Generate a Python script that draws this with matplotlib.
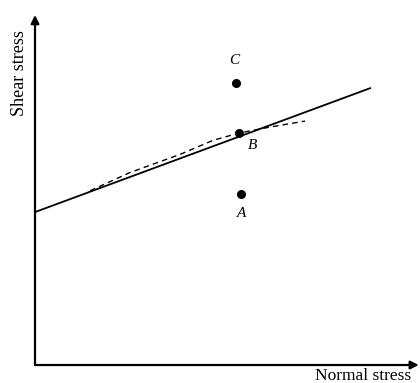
import matplotlib
matplotlib.use("Agg")
import matplotlib.pyplot as plt

# Mohr-Coulomb style sketch: failure line, curved envelope, stress states A/B/C
envelope_x = [0.0, 8.75]
envelope_y = [4.37, 7.91]

curve_x = [1.44, 2.48, 3.79, 4.65, 5.33, 6.14, 7.05]
curve_y = [4.98, 5.50, 6.02, 6.42, 6.63, 6.80, 6.97]

point_labels = ["C", "B", "A"]
point_x = [5.25, 5.33, 5.38]
point_y = [8.06, 6.63, 4.89]

fig = plt.figure(figsize=(4.2, 3.83), dpi=100)
ax = fig.add_axes([0, 0, 1, 1])
ax.set_xlim(-0.914, 10.052)
ax.set_ylim(-0.514, 10.43)
ax.axis("off")

# axes with arrow heads
arrow = dict(arrowstyle="-|>", lw=1.6, color="black", mutation_scale=12,
             shrinkA=0, shrinkB=0)
ax.annotate("", xy=(10.02, 0), xytext=(0, 0), arrowprops=arrow)
ax.annotate("", xy=(0, 10.0), xytext=(0, 0), arrowprops=arrow)

ax.plot(envelope_x, envelope_y, color="black", lw=1.3)
ax.plot(curve_x, curve_y, color="black", lw=1.0, ls=(0, (4, 3)))
ax.plot(point_x, point_y, "o", color="black", ms=5.5)

serif = "Liberation Serif"
offsets = {"C": (-0.05, 0.65), "B": (0.35, -0.35), "A": (0.0, -0.55)}
for lab, x, y in zip(point_labels, point_x, point_y):
    dx, dy = offsets[lab]
    ax.text(x + dx, y + dy, lab, fontsize=11, style="italic", family=serif,
            ha="center", va="center")

ax.text(-0.40, 8.35, "Shear stress", rotation=90, fontsize=13, family=serif,
        ha="center", va="center")
ax.text(9.82, -0.30, "Normal stress", fontsize=12.5, family=serif,
        ha="right", va="center")

fig.savefig("out.png", dpi=100)
